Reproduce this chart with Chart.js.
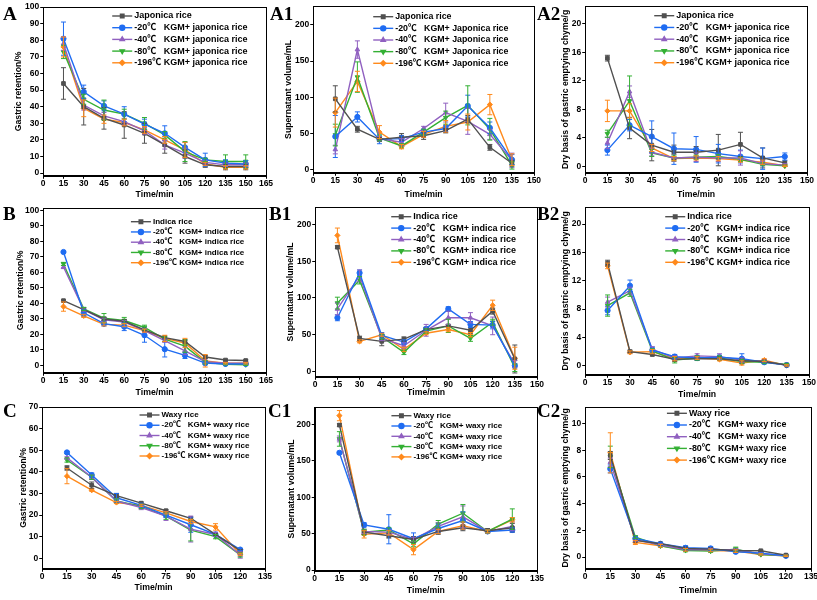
<!DOCTYPE html>
<html>
<head>
<meta charset="utf-8">
<script src="https://cdn.jsdelivr.net/npm/chart.js@4.4.1/dist/chart.umd.min.js"></script>
<style>
  body { margin: 0; background: #fff; }
  #page { position: relative; width: 817px; height: 600px; overflow: hidden; background: #fff; }
  #page canvas { position: absolute; }
  .tag { position: absolute; font-family: "Liberation Serif", "DejaVu Serif", serif; font-weight: bold; font-size: 19px; line-height: 20px; color: #000; }
</style>
</head>
<body>
<div id="page"></div>
<script>
// time points (min)
const timeLong = [15, 30, 45, 60, 75, 90, 105, 120, 135, 150];
const timeMid = [15, 30, 45, 60, 75, 90, 105, 120, 135];
const timeShort = [15, 30, 45, 60, 75, 90, 105, 120];

// tick labels
const xTicks165 = [0, 15, 30, 45, 60, 75, 90, 105, 120, 135, 150, 165];
const xTicks150 = [0, 15, 30, 45, 60, 75, 90, 105, 120, 135, 150];
const xTicks135 = [0, 15, 30, 45, 60, 75, 90, 105, 120, 135];
const yTicksRet100 = [0, 10, 20, 30, 40, 50, 60, 70, 80, 90, 100];
const yTicksRet70 = [0, 10, 20, 30, 40, 50, 60, 70];
const yTicksVol = [0, 50, 100, 150, 200];
const yTicksDry20 = [0, 4, 8, 12, 16, 20];
const yTicksDry10 = [0, 2, 4, 6, 8, 10];

// legend names
const namesJaponica = ['Japonica rice', '-20℃   KGM+ japonica rice', '-40℃   KGM+ japonica rice', '-80℃   KGM+ japonica rice', '-196℃ KGM+ japonica rice'];
const namesJaponicaCap = ['Japonica rice', '-20℃   KGM+ Japonica rice', '-40℃   KGM+ Japonica rice', '-80℃   KGM+ Japonica rice', '-196℃ KGM+ Japonica rice'];
const namesIndica = ['Indica rice', '-20℃   KGM+ indica rice', '-40℃   KGM+ indica rice', '-80℃   KGM+ indica rice', '-196℃ KGM+ indica rice'];
const namesWaxy = ['Waxy rice', '-20℃   KGM+ waxy rice', '-40℃   KGM+ waxy rice', '-80℃   KGM+ waxy rice', '-196℃ KGM+ waxy rice'];

// A - gastric retention, japonica (rice, -20, -40, -80, -196)
const aMean = [
  [54, 40, 33, 29, 24, 17, 10, 5, 4, 4],
  [81, 49, 40.5, 35.5, 29.5, 24, 15.5, 8, 6, 5.5],
  [78, 41, 34.5, 31, 25.5, 17, 12, 6.5, 5, 5],
  [73, 44.5, 38, 35.5, 30, 23, 13, 8, 7, 7],
  [76, 39, 32.5, 30.5, 26, 20, 14, 5.5, 3.5, 3.5]
];
const aErr = [
  [9.5, 11, 6.5, 8, 6, 5, 4, 1.5, 2, 2],
  [10, 4, 3, 4.5, 3, 4.5, 3, 4, 2, 2],
  [4, 3, 2, 2, 2, 2.5, 3, 1, 1, 1],
  [4, 3, 6, 3, 3.5, 2, 6, 1, 4, 4],
  [6, 5, 2.5, 2, 2, 2, 4.5, 1, 1, 1]
];

// A1 - supernatant volume, japonica
const a1Mean = [
  [98, 56, 42, 45, 47, 54, 70, 31, 9],
  [46, 73, 42, 43, 52, 57, 88, 58, 14],
  [28, 166, 43, 38, 57, 79, 67, 49, 13],
  [48, 128, 44, 33, 52, 72, 89, 56, 6],
  [79, 122, 52, 32, 49, 60, 66, 90, 14]
];
const a1Err = [
  [18, 4, 3, 5, 5, 3, 5, 4, 4],
  [29, 7, 6, 4, 4, 4, 15, 8, 7],
  [6, 12, 3, 5, 3, 13, 18, 7, 10],
  [15, 21, 4, 3, 4, 9, 27, 15, 5],
  [20, 14, 9, 3, 4, 8, 11, 14, 8]
];

// A2 - dry basis of gastric emptying chyme, japonica
const a2Mean = [
  [15.2, 5.4, 3.0, 2.0, 2.0, 2.3, 3.1, 1.2, 0.5],
  [2.3, 5.8, 4.2, 2.5, 2.4, 1.8, 1.4, 1.1, 1.4],
  [3.3, 10.5, 2.0, 1.2, 1.3, 1.2, 1.2, 0.4, 0.2],
  [4.6, 9.2, 1.9, 1.2, 1.3, 1.4, 1.0, 0.3, 0.1],
  [7.8, 7.8, 2.6, 1.1, 1.2, 1.1, 0.9, 0.6, 0.1]
];
const a2Err = [
  [0.4, 1.5, 2.2, 1, 0.8, 2.2, 1.7, 1.4, 0.3],
  [0.7, 0.8, 2.2, 2.2, 1.8, 1.3, 0.9, 1.5, 0.5],
  [0.8, 0.8, 0.5, 0.5, 0.6, 0.5, 1, 0.3, 0.2],
  [0.5, 3.5, 0.5, 0.4, 0.3, 0.3, 0.3, 0.2, 0.1],
  [1.5, 1, 0.5, 0.3, 0.3, 0.3, 0.3, 0.3, 0.1]
];

// B - gastric retention, indica
const bMean = [
  [41.8, 36, 30, 28.5, 23, 18, 15.5, 5.5, 3.5, 3.2],
  [73.2, 34, 27, 25, 19.5, 10.5, 6.5, 1.5, 1, 1],
  [63.5, 36, 29.5, 28, 22.5, 16, 9.5, 2.5, 1.5, 1.5],
  [65.5, 36.5, 30.5, 29, 24.5, 17, 12.5, 2, 0.8, 0.5],
  [38, 32, 26.5, 26, 22.5, 17.5, 14.5, 3, 1.5, 1.5]
];
const bErr = [
  [0.5, 1, 1, 1, 1, 1, 1, 1, 0.5, 0.5],
  [0.5, 2, 1.5, 2.5, 4.5, 5, 2, 1, 0.5, 0.5],
  [1, 1, 1, 1, 1, 1, 2.5, 1, 0.5, 0.5],
  [1, 1, 3, 2, 1.5, 1.5, 4, 1, 0.5, 0.5],
  [3, 1, 1, 1, 1, 2, 3, 4, 0.5, 0.5]
];

// B1 - supernatant volume, indica
const b1Mean = [
  [169, 45, 41, 44, 57, 62, 56, 82, 17],
  [73, 134, 49, 40, 58, 85, 64, 63, 8],
  [85, 130, 45, 35, 56, 73, 73, 62, 10],
  [93, 124, 47, 26, 55, 62, 45, 67, 5],
  [185, 41, 50, 30, 52, 57, 50, 90, 18]
];
const b1Err = [
  [2, 3, 6, 3, 3, 2, 4, 4, 19],
  [4, 4, 4, 3, 2, 3, 4, 5, 3],
  [8, 8, 3, 4, 8, 9, 7, 12, 5],
  [8, 5, 3, 3, 3, 9, 4, 4, 5],
  [10, 2, 2, 3, 2, 3, 3, 7, 15]
];

// B2 - dry basis, indica
const b2Mean = [
  [14.5, 2.0, 1.6, 0.9, 1.0, 1.0, 0.7, 0.6, 0.1],
  [7.8, 11.3, 2.2, 1.3, 1.1, 1.2, 1.0, 0.5, 0.1],
  [9.0, 10.6, 2.3, 1.1, 1.4, 1.3, 0.8, 0.6, 0.1],
  [8.5, 10.3, 2.1, 0.8, 1.1, 1.1, 0.6, 0.5, 0.2],
  [14.1, 1.9, 2.0, 1.0, 1.1, 0.9, 0.4, 0.8, 0.05]
];
const b2Err = [
  [0.4, 0.2, 0.2, 0.3, 0.2, 0.2, 0.3, 0.2, 0.1],
  [0.6, 0.8, 0.4, 0.3, 0.3, 0.3, 0.7, 0.2, 0.1],
  [0.7, 0.5, 0.4, 0.3, 0.3, 0.4, 0.3, 0.2, 0.1],
  [1.5, 0.5, 0.3, 0.4, 0.3, 0.3, 0.3, 0.2, 0.1],
  [0.4, 0.2, 0.3, 0.3, 0.2, 0.2, 0.3, 0.2, 0.1]
];

// C - gastric retention, waxy
const cMean = [
  [41.8, 33.8, 29, 25.5, 22, 18.5, 11, 3.5],
  [49, 38.5, 28, 24.5, 20, 15.5, 11, 4],
  [46.5, 37.5, 26.5, 23.5, 19.5, 13.5, 11, 1.5],
  [45.5, 37.5, 26.5, 24, 19.5, 13, 10, 1.5],
  [38, 31.5, 25.8, 24.5, 21, 17, 14.5, 1.8]
];
const cErr = [
  [1, 1.5, 1, 0.5, 0.5, 0.5, 0.5, 0.5],
  [0.5, 1, 2, 1, 1, 3.5, 1, 0.5],
  [0.5, 1, 1, 1, 2, 6, 1, 1.5],
  [1, 1, 1, 1, 1.5, 5, 1, 1],
  [3.5, 0.5, 0.5, 0.5, 0.5, 1, 1.5, 0.5]
];

// C1 - supernatant volume, waxy
const c1Mean = [
  [199, 52, 47, 42, 53, 58, 54, 58],
  [161, 62, 56, 43, 57, 68, 53, 55],
  [180, 53, 52, 42, 60, 73, 53, 60],
  [180, 52, 55, 36, 63, 78, 53, 70],
  [212, 49, 51, 28, 53, 61, 53, 69]
];
const c1Err = [
  [2, 3, 3, 4, 4, 4, 3, 6],
  [2, 3, 20, 8, 6, 12, 2, 3],
  [4, 3, 3, 3, 5, 15, 2, 6],
  [10, 4, 3, 4, 5, 12, 2, 14],
  [7, 5, 3, 7, 3, 5, 2, 3]
];

// C2 - dry basis, waxy
const c2Mean = [
  [7.6, 1.25, 1.0, 0.65, 0.6, 0.5, 0.48, 0.15],
  [6.6, 1.4, 1.0, 0.7, 0.65, 0.4, 0.3, 0.1],
  [7.1, 1.3, 0.9, 0.55, 0.55, 0.55, 0.25, 0.1],
  [7.5, 1.5, 0.85, 0.5, 0.45, 0.6, 0.2, 0.1],
  [7.8, 1.1, 0.85, 0.55, 0.5, 0.45, 0.2, 0.1]
];
const c2Err = [
  [0.3, 0.1, 0.1, 0.1, 0.1, 0.1, 0.05, 0.05],
  [0.3, 0.1, 0.1, 0.15, 0.15, 0.1, 0.05, 0.05],
  [0.3, 0.1, 0.1, 0.1, 0.1, 0.1, 0.05, 0.05],
  [0.8, 0.1, 0.1, 0.1, 0.1, 0.15, 0.05, 0.05],
  [1.5, 0.15, 0.1, 0.1, 0.1, 0.1, 0.05, 0.05]
];

const colors = ['#505050', '#1f6cf2', '#9060c0', '#34b034', '#ff8a1c'];
const pointStyles = ['rect', 'circle', 'triangle', 'triangle', 'rectRot'];
const pointRotations = [0, 0, 0, 180, 0];
const fontFamily = '"Liberation Sans", Arial, sans-serif';
const legendFamily = '"Liberation Sans", Arial, "Noto Sans CJK SC", sans-serif';

const titleRet = 'Gastric retention/%';
const titleVol = 'Supernatant volume/mL';
const titleDry = 'Dry basis of gastric emptying chyme/g';

// layout: box = plot area [left, top, right, bottom] on the page
const panels = [
  { tag: 'A',  tagX: 3,   tagY: 4,   box: [43, 7, 266, 176],    yMin: -1.6, yMax: 100,  xMax: 165, xT: xTicks165, yT: yTicksRet100, yTitle: titleRet, titleX: 18,  titleY: 195, times: timeLong,  names: namesJaponica,    mean: aMean,  err: aErr,  leg: [112, 16, 11.7, 9] },
  { tag: 'A1', tagX: 270, tagY: 4,   box: [313, 6, 534, 173],   yMin: -4.1, yMax: 226,  xMax: 150, xT: xTicks150, yT: yTicksVol,    yTitle: titleVol, titleX: 288, titleY: 195, times: timeMid,   names: namesJaponicaCap, mean: a1Mean, err: a1Err, leg: [373, 16.7, 11.65, 8.8] },
  { tag: 'A2', tagX: 537, tagY: 4,   box: [585, 6, 807, 173],   yMin: -0.88, yMax: 22.5, xMax: 150, xT: xTicks150, yT: yTicksDry20, yTitle: titleDry, titleX: 565, titleY: 195, times: timeMid,   names: namesJaponica,    mean: a2Mean, err: a2Err, leg: [654, 15.7, 11.75, 9] },
  { tag: 'B',  tagX: 3,   tagY: 204, box: [43, 208, 266, 373],  yMin: -4.7, yMax: 101.5, xMax: 165, xT: xTicks165, yT: yTicksRet100, yTitle: titleRet, titleX: 20,  titleY: 393, times: timeLong,  names: namesIndica,      mean: bMean,  err: bErr,  leg: [130.7, 221.7, 10.25, 8] },
  { tag: 'B1', tagX: 269, tagY: 204, box: [315, 207, 537, 377], yMin: -7.2, yMax: 223.5, xMax: 150, xT: xTicks150, yT: yTicksVol,   yTitle: titleVol, titleX: 290, titleY: 393, times: timeMid,   names: namesIndica,      mean: b1Mean, err: b1Err, leg: [391, 216.7, 11.4, 9] },
  { tag: 'B2', tagX: 537, tagY: 204, box: [585, 207, 809, 375], yMin: -1.27, yMax: 22.4, xMax: 150, xT: xTicks150, yT: yTicksDry20, yTitle: titleDry, titleX: 565, titleY: 395, times: timeMid,   names: namesIndica,      mean: b2Mean, err: b2Err, leg: [665, 216.7, 11.4, 9] },
  { tag: 'C',  tagX: 3,   tagY: 401, box: [42, 407, 265, 569],  yMin: -4.9, yMax: 70,   xMax: 135, xT: xTicks135, yT: yTicksRet70,  yTitle: titleRet, titleX: 23,  titleY: 588, times: timeShort, names: namesWaxy,        mean: cMean,  err: cErr,  leg: [139.3, 415, 10.25, 8] },
  { tag: 'C1', tagX: 268, tagY: 401, box: [315, 407, 537, 571], yMin: -1,   yMax: 223.7, xMax: 135, xT: xTicks135, yT: yTicksVol,   yTitle: titleVol, titleX: 291.5, titleY: 591, times: timeShort, names: namesWaxy,      mean: c1Mean, err: c1Err, leg: [391.7, 415.7, 10.3, 8.1] },
  { tag: 'C2', tagX: 537, tagY: 401, box: [585, 407, 811, 569], yMin: -0.87, yMax: 11.22, xMax: 135, xT: xTicks135, yT: yTicksDry10, yTitle: titleDry, titleX: 565, titleY: 591, times: timeShort, names: namesWaxy,       mean: c2Mean, err: c2Err, leg: [666.7, 413.3, 11.7, 8.9] }
];

// error bars drawn through the y scale
const errorBars = {
  id: 'errorBars',
  afterDatasetsDraw(chart) {
    const { ctx } = chart;
    const yScale = chart.scales.y;
    ctx.save();
    ctx.lineWidth = 1;
    chart.data.datasets.forEach((ds, i) => {
      const meta = chart.getDatasetMeta(i);
      ctx.strokeStyle = ds.borderColor;
      meta.data.forEach((pt, j) => {
        const v = ds.data[j].y, e = ds.errors[j];
        const top = yScale.getPixelForValue(v + e);
        const bot = yScale.getPixelForValue(v - e);
        ctx.beginPath();
        ctx.moveTo(pt.x, top); ctx.lineTo(pt.x, bot);
        ctx.moveTo(pt.x - 2.5, top); ctx.lineTo(pt.x + 2.5, top);
        ctx.moveTo(pt.x - 2.5, bot); ctx.lineTo(pt.x + 2.5, bot);
        ctx.stroke();
      });
    });
    ctx.restore();
  }
};

// closed box around the plot
const frameBox = {
  id: 'frameBox',
  afterDraw(chart) {
    const { ctx, chartArea: a } = chart;
    ctx.save();
    ctx.strokeStyle = '#000';
    ctx.lineWidth = 1;
    ctx.strokeRect(Math.round(a.left) + 0.5, Math.round(a.top) + 0.5, Math.round(a.right - a.left), Math.round(a.bottom - a.top));
    ctx.restore();
  }
};

// legend inside the plot area
const innerLegend = {
  id: 'innerLegend',
  afterDraw(chart, args, opts) {
    const { ctx } = chart;
    ctx.save();
    ctx.font = 'bold ' + opts.size + 'px ' + legendFamily;
    ctx.textBaseline = 'middle';
    chart.data.datasets.forEach((ds, i) => {
      const y = opts.y + i * opts.dy;
      ctx.strokeStyle = ds.borderColor;
      ctx.fillStyle = ds.borderColor;
      ctx.lineWidth = 1.4;
      ctx.beginPath();
      ctx.moveTo(opts.x, y); ctx.lineTo(opts.x + 20, y);
      ctx.stroke();
      Chart.helpers.drawPoint(ctx, { pointStyle: ds.pointStyle, rotation: ds.pointRotation, radius: 2.5, borderWidth: 1 }, opts.x + 10, y);
      ctx.fillStyle = '#000';
      ctx.fillText(ds.label, opts.x + 22, y);
    });
    ctx.restore();
  }
};

const page = document.getElementById('page');

panels.forEach(p => {
  const [l, t, r, b] = p.box;
  const padTop = 6, padRight = 8;
  const yAxisW = l - (p.titleX - 8.7 * 1.2 / 2);
  const xAxisH = p.titleY + 8.7 * 1.2 / 2 - b;
  const cLeft = l - yAxisW, cTop = t - padTop;

  const canvas = document.createElement('canvas');
  canvas.width = Math.round(r - l + yAxisW + padRight);
  canvas.height = Math.round(b - t + padTop + xAxisH);
  canvas.style.left = cLeft + 'px';
  canvas.style.top = cTop + 'px';
  page.appendChild(canvas);

  const tag = document.createElement('div');
  tag.className = 'tag';
  tag.textContent = p.tag;
  tag.style.left = p.tagX + 'px';
  tag.style.top = p.tagY + 'px';
  page.appendChild(tag);

  const tickFont = { family: fontFamily, size: 8.5, weight: 'bold' };
  const titleFont = { family: fontFamily, size: 8.7, weight: 'bold' };

  new Chart(canvas.getContext('2d'), {
    type: 'line',
    data: {
      datasets: p.names.map((name, i) => ({
        label: name,
        data: p.times.map((tm, j) => ({ x: tm, y: p.mean[i][j] })),
        errors: p.err[i],
        borderColor: colors[i],
        backgroundColor: colors[i],
        borderWidth: 1.4,
        pointStyle: pointStyles[i],
        pointRotation: pointRotations[i],
        pointRadius: 2.6,
        pointBorderWidth: 1,
        tension: 0
      }))
    },
    options: {
      responsive: false,
      animation: false,
      layout: { padding: { top: padTop, right: padRight, left: 0, bottom: 0 } },
      plugins: {
        legend: { display: false },
        tooltip: { enabled: false },
        innerLegend: { x: p.leg[0] - cLeft, y: p.leg[1] - cTop, dy: p.leg[2], size: p.leg[3] }
      },
      scales: {
        x: {
          type: 'linear',
          min: 0,
          max: p.xMax,
          afterBuildTicks: s => { s.ticks = p.xT.map(v => ({ value: v })); },
          afterFit: s => { s.height = xAxisH; },
          grid: { drawOnChartArea: false, tickLength: 3, color: '#000' },
          border: { color: '#000', width: 1 },
          ticks: { autoSkip: false, maxRotation: 0, padding: 0, color: '#000', font: tickFont },
          title: { display: true, text: 'Time/min', color: '#000', font: titleFont, padding: { top: 0, bottom: 0 } }
        },
        y: {
          min: p.yMin,
          max: p.yMax,
          afterBuildTicks: s => { s.ticks = p.yT.map(v => ({ value: v })); },
          afterFit: s => { s.width = yAxisW; },
          grid: { drawOnChartArea: false, tickLength: 3, color: '#000' },
          border: { color: '#000', width: 1 },
          ticks: { autoSkip: false, padding: 1, color: '#000', font: tickFont },
          title: { display: true, text: p.yTitle, color: '#000', font: titleFont, padding: { top: 0, bottom: 0 } }
        }
      }
    },
    plugins: [errorBars, frameBox, innerLegend]
  });
});
</script>
</body>
</html>
